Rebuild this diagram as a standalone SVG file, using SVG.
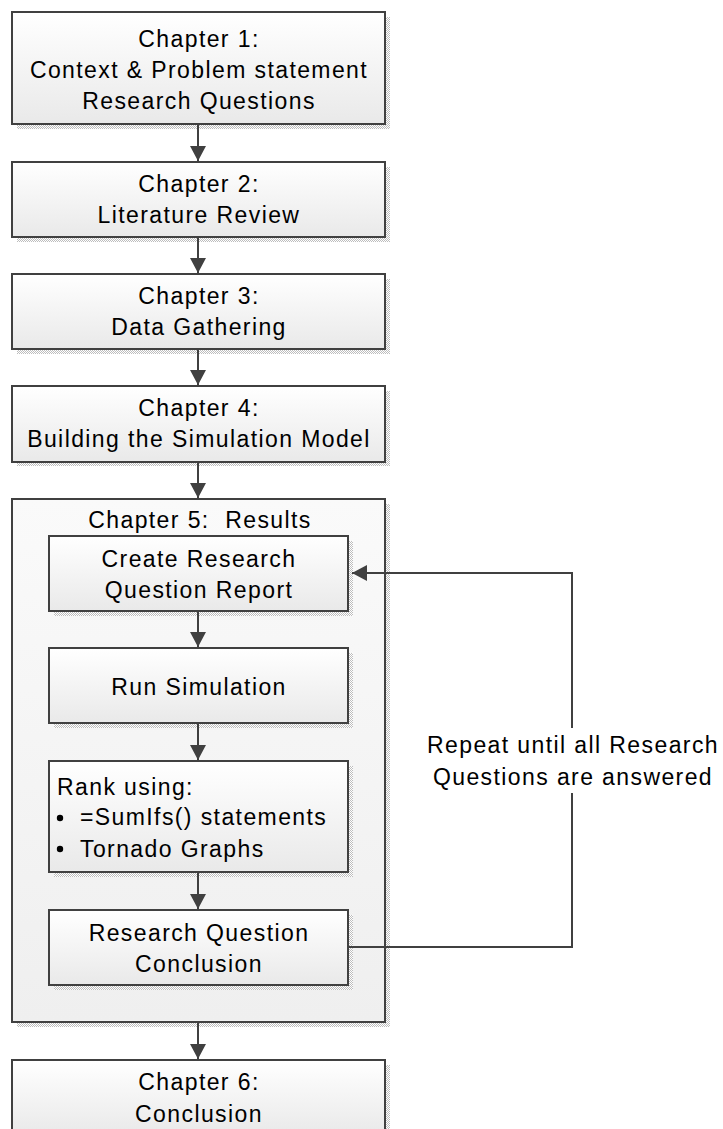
<svg xmlns="http://www.w3.org/2000/svg" width="723" height="1129" viewBox="0 0 723 1129">
<defs>
<linearGradient id="gBox" x1="0" y1="0" x2="0" y2="1">
<stop offset="0" stop-color="#ffffff"/>
<stop offset="1" stop-color="#e9e9e9"/>
</linearGradient>
<linearGradient id="gCont" x1="0" y1="0" x2="0" y2="1">
<stop offset="0" stop-color="#fafafa"/>
<stop offset="1" stop-color="#efefef"/>
</linearGradient>
<pattern id="dots" width="2" height="2" patternUnits="userSpaceOnUse">
<rect x="0" y="0" width="2" height="2" fill="#ffffff"/>
<rect x="0" y="0" width="1" height="1" fill="#bdbdbd"/>
<rect x="1" y="1" width="1" height="1" fill="#bdbdbd"/>
</pattern>
<marker id="arr" markerWidth="16" markerHeight="18" refX="15" refY="9" orient="auto" markerUnits="userSpaceOnUse">
<path d="M0,1 L15,9 L0,17 Z" fill="#404040"/>
</marker>
</defs>
<style>
.box{fill:url(#gBox);stroke:#404040;stroke-width:2}
.cont{fill:url(#gCont);stroke:#404040;stroke-width:2}
.sh{fill:url(#dots)}
.t{font-family:"Liberation Sans",Arial,sans-serif;font-size:23px;fill:#000;letter-spacing:1.4px}
.c{text-anchor:middle}
.ln{fill:none;stroke:#404040;stroke-width:2}
</style>
<rect width="723" height="1129" fill="#ffffff"/>

<g id="ch1">
<rect class="sh" x="17" y="17" width="373" height="112"/>
<rect class="box" x="12" y="12" width="373" height="112"/>
<text class="t c" x="199" y="46.5">Chapter 1:</text>
<text class="t c" x="199" y="77.5">Context &amp; Problem statement</text>
<text class="t c" x="199" y="108.5">Research Questions</text>
</g>

<g id="ch2">
<rect class="sh" x="17" y="167" width="373" height="75"/>
<rect class="box" x="12" y="162" width="373" height="75"/>
<text class="t c" x="199" y="191.5">Chapter 2:</text>
<text class="t c" x="199" y="222.5">Literature Review</text>
</g>

<g id="ch3">
<rect class="sh" x="17" y="279" width="373" height="75"/>
<rect class="box" x="12" y="274" width="373" height="75"/>
<text class="t c" x="199" y="303.5">Chapter 3:</text>
<text class="t c" x="199" y="334.5">Data Gathering</text>
</g>

<g id="ch4">
<rect class="sh" x="17" y="391" width="373" height="75"/>
<rect class="box" x="12" y="386" width="373" height="76"/>
<text class="t c" x="199" y="416">Chapter 4:</text>
<text class="t c" x="199" y="447">Building the Simulation Model</text>
</g>

<g id="ch5">
<rect class="sh" x="17" y="504" width="373" height="523"/>
<rect class="cont" x="12" y="499" width="373" height="523"/>
<text class="t c" x="200" y="528" xml:space="preserve" style="white-space:pre">Chapter 5:  Results</text>
</g>

<g id="create">
<rect class="sh" x="54" y="541" width="299" height="75"/>
<rect class="box" x="49" y="536" width="299" height="75"/>
<text class="t c" x="199" y="566.5">Create Research</text>
<text class="t c" x="199" y="598">Question Report</text>
</g>

<g id="run">
<rect class="sh" x="54" y="653" width="299" height="75"/>
<rect class="box" x="49" y="648" width="299" height="75"/>
<text class="t c" x="199" y="695">Run Simulation</text>
</g>

<g id="rank">
<rect class="sh" x="54" y="766" width="299" height="111"/>
<rect class="box" x="49" y="761" width="299" height="111"/>
<text class="t" x="57" y="795">Rank using:</text>
<circle cx="60" cy="818" r="3.2" fill="#000"/>
<text class="t" x="80" y="825">=SumIfs() statements</text>
<circle cx="60" cy="849" r="3.2" fill="#000"/>
<text class="t" x="80" y="856.5">Tornado Graphs</text>
</g>

<g id="rqc">
<rect class="sh" x="54" y="915" width="299" height="75"/>
<rect class="box" x="49" y="910" width="299" height="75"/>
<text class="t c" x="199" y="940.5">Research Question</text>
<text class="t c" x="199" y="971.5">Conclusion</text>
</g>

<g id="ch6">
<rect class="sh" x="17" y="1065" width="373" height="75"/>
<rect class="box" x="12" y="1060" width="373" height="75"/>
<text class="t c" x="199" y="1090">Chapter 6:</text>
<text class="t c" x="199" y="1121.5">Conclusion</text>
</g>

<g id="connectors">
<line class="ln" x1="198" y1="124" x2="198" y2="161" marker-end="url(#arr)"/>
<line class="ln" x1="198" y1="237" x2="198" y2="273" marker-end="url(#arr)"/>
<line class="ln" x1="198" y1="349" x2="198" y2="385" marker-end="url(#arr)"/>
<line class="ln" x1="198" y1="462" x2="198" y2="498" marker-end="url(#arr)"/>
<line class="ln" x1="198" y1="611" x2="198" y2="647" marker-end="url(#arr)"/>
<line class="ln" x1="198" y1="723" x2="198" y2="760" marker-end="url(#arr)"/>
<line class="ln" x1="198" y1="872" x2="198" y2="909" marker-end="url(#arr)"/>
<line class="ln" x1="198" y1="1022" x2="198" y2="1059" marker-end="url(#arr)"/>
<polyline class="ln" points="348,947 572,947 572,573 352,573" marker-end="url(#arr)"/>
<rect x="420" y="728" width="300" height="65" fill="#ffffff"/>
<text class="t c" x="573" y="753">Repeat until all Research</text>
<text class="t c" x="573" y="785">Questions are answered</text>
</g>
</svg>
